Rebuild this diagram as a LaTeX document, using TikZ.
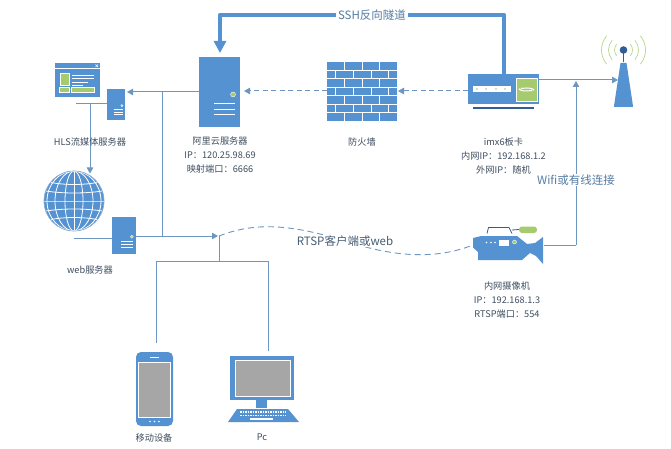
\documentclass[tikz,border=0pt]{standalone}
\usepackage{fontspec}
\setmainfont{Noto Sans CJK SC}
\usetikzlibrary{arrows.meta,calc}
\definecolor{iconblue}{HTML}{5592D2}
\definecolor{linkblue}{HTML}{6D97C1}
\definecolor{leaf}{HTML}{A6CA6E}
\definecolor{screen}{HTML}{A6A6A6}
\definecolor{txt}{HTML}{3F4F60}
\definecolor{txtb}{HTML}{567CA3}
\definecolor{deep}{HTML}{2F5F96}
\tikzset{
 x=1pt,y=-1pt,
 icon/.style={fill=iconblue,draw=none,inner sep=0pt,outer sep=0pt,rectangle},
 link/.style={draw=linkblue,line width=1pt},
 arrowed/.style={link,-{Triangle[length=6pt,width=6.5pt]}},
 dashlink/.style={arrowed,dash pattern=on 5pt off 3.5pt},
 fat/.style={draw=iconblue,line width=4.2pt,line join=round,-{Triangle[length=12pt,width=12pt]}},
 lab/.style={font=\fontsize{9.2}{14}\selectfont,text=txt,align=center,inner sep=0pt},
 biglab/.style={font=\fontsize{11.5}{14}\selectfont,text=txtb,fill=white,inner xsep=2pt,inner ysep=1pt},
}
\newcommand{\servericon}[5]{% name, cx, cy, w, h
 \node[icon,minimum width=#4 pt,minimum height=#5 pt] (#1) at (#2,#3) {};
 \fill[leaf,draw=white,line width=.4pt] ($(#1.center)+(#4*.33,#5*.035)$) circle (#4*.06);
 \foreach \k in {.165,.245,.325}
  \draw[white,line width=1.1pt] ($(#1.center)+(-#4*.13,#5*\k)$) -- ($(#1.center)+(#4*.38,#5*\k)$);
}
\begin{document}
\begin{tikzpicture}
\useasboundingbox (0,0) rectangle (671,449);
\fill[white] (0,0) rectangle (671,449);

% window icon
\node[icon,minimum width=45pt,minimum height=34pt] (win) at (77.5,80) {};
\draw[white,line width=.6pt] (55,68.5) -- (100,68.5);
\draw[white,line width=.5pt] (95.5,64.5) -- (98,67) (98,64.5) -- (95.5,67);
\fill[leaf,draw=white,line width=.4pt] (60,73.5) rectangle (69,85);
\fill[leaf,draw=white,line width=.4pt] (59,87.5) rectangle (69,92.5);
\fill[leaf,draw=white,line width=.4pt] (71,87.5) rectangle (94,92.5);
\foreach \yy/\xe in {75/94,78.5/94,82/88,85/83} \draw[white,line width=.6pt] (72,\yy) -- (\xe,\yy);

\servericon{hls}{116}{104.5}{18}{31}
\servericon{ali}{219.5}{92}{41}{70}
\servericon{web}{124}{235.5}{24}{37}

% globe
\node[circle,fill=iconblue,minimum size=60pt,inner sep=0pt,outer sep=0pt] (globe) at (74,201) {};
\begin{scope}
\clip (74,201) circle (30);
\foreach \r in {9,19,27} \draw[white,line width=.8pt] (74,201) ellipse (\r pt and 30pt);
\draw[white,line width=.8pt] (74,171) -- (74,231);
\foreach \dy/\c in {-21/6,-11/4,0/0,11/-4,21/-6} \draw[white,line width=.8pt] (40,201+\dy) .. controls (60,201+\dy+\c) and (88,201+\dy+\c) .. (108,201+\dy);
\end{scope}
\draw[linkblue!80!white,line width=.7pt] (74,201) circle (30);

% firewall
\node[icon,minimum width=70pt,minimum height=59pt] (wall) at (362,91.5) {};
\foreach \i in {1,...,6} \draw[white,line width=.9pt] (327,62+\i*8.43) -- (397,62+\i*8.43);
\foreach \i in {0,2,4,6} \foreach \xx in {344.5,362,379.5} \draw[white,line width=.9pt] (\xx,62+\i*8.43) -- (\xx,62+\i*8.43+8.43);
\foreach \i in {1,3,5} \foreach \xx in {335,353,371,388.5} \draw[white,line width=.9pt] (\xx,62+\i*8.43) -- (\xx,62+\i*8.43+8.43);

% imx6 board
\node[icon,minimum width=71pt,minimum height=30pt] (imx) at (503.5,89) {};
\fill[deep] (473,107) rectangle (534,109);
\fill[white] (473,86) rectangle (511,92);
\foreach \xx in {477,486,496,505} \fill[leaf] (\xx,89) circle (.9);
\fill[leaf,draw=white,line width=.4pt] (516,78) rectangle (537,101);
\draw[white,line width=1pt,-{Stealth[length=2.5pt]}] (519,88.5) arc[start angle=180,end angle=20,x radius=7,y radius=2.5];
\draw[white,line width=1pt,-{Stealth[length=2.5pt]}] (534,90.5) arc[start angle=0,end angle=-160,x radius=7,y radius=2.5];

% tower
\node[icon,minimum width=19pt,minimum height=.1pt] (twr) at (623.5,106) {};
\fill[iconblue] (614,106) -- (620.5,63) -- (626.5,63) -- (633,106) -- cycle;
\draw[deep,line width=1.3pt] (623.5,50) -- (623.5,62);
\fill[deep] (623.5,50) circle (3.8);
\foreach \r in {9,15,22}{
 \draw[leaf!80!white,line width=.7pt] (623.5,50) ++(140:\r) arc[start angle=140,end angle=220,radius=\r];
 \draw[leaf!80!white,line width=.7pt] (623.5,50) ++(40:\r) arc[start angle=40,end angle=-40,radius=\r];
}

% camera
\coordinate (camL) at (473,245);
\coordinate (camR) at (544,245);
\fill[iconblue] (473,238) -- (481,236) -- (517,236) -- (527,244) -- (535,243) -- (543,237) -- (543,264) -- (536,256) -- (530,253) -- (522,260) -- (478,260) -- (478,252) -- (473,247.5) -- cycle;
\draw[deep,line width=.8pt] (487,233.5) -- (488.5,227.5) -- (509,227.5) -- (512,233.5);
\draw[deep,line width=.8pt] (512,230) -- (519,229.5);
\fill[leaf,rounded corners=3pt] (519,226.5) rectangle (537,233);
\fill[white] (499,240) rectangle (509,246);
\foreach \xx in {486.5,491,495} \fill[white] (\xx,242.5) circle (.8);
\fill[leaf,draw=white,line width=.4pt] (514.5,242) circle (2);

% phone
\node[icon,minimum width=37pt,minimum height=74pt,rounded corners=5pt] (phone) at (154.5,389) {};
\fill[screen,draw=white,line width=.7pt] (138.5,362) rectangle (170.5,417);
\draw[white,line width=.9pt] (150,357) -- (159,357);
\foreach \xx in {150,154.5,159} \fill[white] (\xx,421.5) circle (.9);

% pc
\node[icon,minimum width=64pt,minimum height=44pt] (pc) at (262,378) {};
\fill[screen,draw=white,line width=.7pt] (235,360) rectangle (290,396);
\fill[iconblue] (256,400) rectangle (267,408);
\fill[iconblue] (237,409) -- (288,409) -- (299,422) -- (228,422) -- cycle;
\foreach \yy in {412,415.5} \draw[white,line width=1.6pt,dash pattern=on 1.6pt off .9pt] (240,\yy) -- (286,\yy);
\draw[white,line width=1.6pt] (250,419) -- (273,419);

% junction coordinates
\coordinate (tapA) at (162,92);
\coordinate (tapB) at (162,236);
\coordinate (hubIn) at (218,236);
\coordinate (hub) at (219,236);
\coordinate (bus) at (219,261);
\coordinate (busL) at (156,261);
\coordinate (busR) at (268,261);
\coordinate (phT) at (156,343);
\coordinate (pcT) at (268,351);
\coordinate (hlsL) at (76,104);
\coordinate (hlsV) at (90,104);
\coordinate (globeT) at (90,173.5);
\coordinate (webL) at (74,238);
\coordinate (sshA) at (504,74);
\coordinate (sshB) at (504,15);
\coordinate (sshC) at (220,15);
\coordinate (aliT) at (220,53);
\coordinate (imxR) at (539,80);
\coordinate (towerIn) at (618,80);
\coordinate (wifiUp) at (576,81);
\coordinate (wifiLow) at (576,245);

% connectors
\draw[arrowed] (ali.west |- 0,92) -- (127,92);
\draw[link] (tapA) -- (tapB);
\draw[link] (hlsL) -- (hlsL -| hls.west);
\draw[arrowed] (hlsV) -- (globeT);
\draw[link] (webL) -- (webL -| web.west);
\draw[arrowed] (web.east |- hubIn) -- (hubIn);
\draw[link] (hub) -- (bus);
\draw[link] (phT) -- (busL) -- (busR) -- (pcT);
\draw[fat] (sshA) -- (sshB) -- (sshC) -- (aliT);
\draw[dashlink] (wall.west |- 0,91) -- (244,91);
\draw[dashlink] (imx.west |- 0,91) -- (398,91);
\draw[arrowed] (imxR) -- (towerIn);
\draw[arrowed] (wifiLow) -- (wifiUp);
\draw[link] (camR) -- (wifiLow);
\draw[linkblue,line width=.9pt,dash pattern=on 6pt off 4pt] (hub) .. controls (255,222) and (290,224) .. (345,241) .. controls (385,254) and (430,262) .. (camL);

% labels
\node[biglab] (sshlab) at (372,15) {SSH反向隧道};
\node[biglab] (wifilab) at (576,180) {Wifi或有线连接};
\node[biglab,text=txt!70!txtb] (rtsplab) at (345,241) {RTSP客户端或web};
\node[lab] (l1) at (90,142) {HLS流媒体服务器};
\node[lab] (l2) at (220,155) {阿里云服务器\\IP：120.25.98.69\\映射端口：6666};
\node[lab] (l3) at (362,142) {防火墙};
\node[lab] (l4) at (503.5,156) {imx6板卡\\内网IP：192.168.1.2\\外网IP：随机};
\node[lab] (l5) at (90,270) {web服务器};
\node[lab] (l6) at (507,300) {内网摄像机\\IP：192.168.1.3\\RTSP端口：554};
\node[lab] (l7) at (154,438) {移动设备};
\node[lab] (l8) at (262,437) {Pc};
\end{tikzpicture}
\end{document}
